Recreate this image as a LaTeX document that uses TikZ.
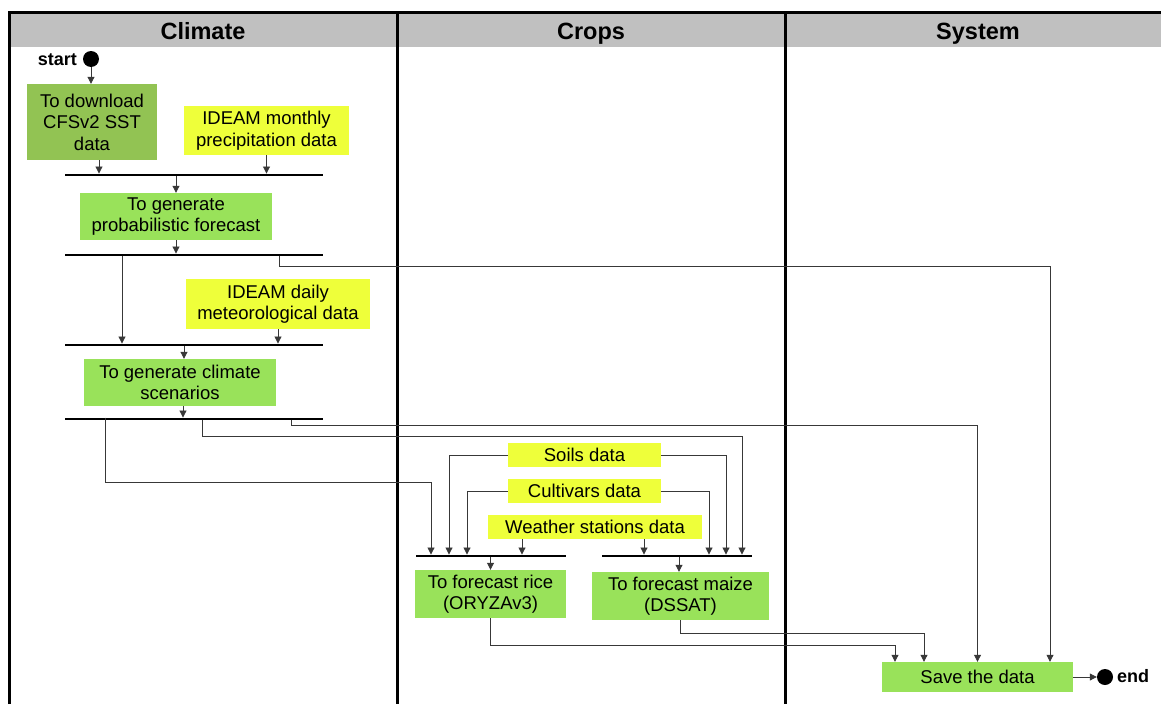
\documentclass[tikz,border=0pt]{standalone}
\usepackage{fontspec}
\setmainfont{Liberation Sans}
\usetikzlibrary{arrows.meta}
\definecolor{gfill}{HTML}{99E25A}
\definecolor{dgfill}{HTML}{92C353}
\definecolor{yfill}{HTML}{EEFF3A}
\definecolor{hdr}{HTML}{C0C0C0}
\definecolor{lnc}{HTML}{383838}
\begin{document}
\begin{tikzpicture}[x=1pt,y=-1pt,
  txt/.style={font=\fontsize{18.5}{21.5}\selectfont, align=center, inner sep=0pt},
  gbox/.style={txt, fill=gfill, minimum width=#1},
  dgbox/.style={txt, fill=dgfill, minimum width=#1},
  ybox/.style={txt, fill=yfill, minimum width=#1},
  barnode/.style={fill=black, inner sep=0pt, minimum height=2.5pt, minimum width=#1},
  dot/.style={circle, fill=black, inner sep=0pt, minimum size=16pt},
  lbl/.style={font=\bfseries\fontsize{18}{21}\selectfont, inner sep=0pt},
  hdrtxt/.style={font=\bfseries\fontsize{23.5}{27}\selectfont, inner sep=0pt, anchor=base},
  conn/.style={draw=lnc, line width=0.85pt, -{Triangle[length=7pt,width=7pt]}},
  lane/.style={line width=3pt, black}
]
\useasboundingbox (0,0) rectangle (1161,704);
% lanes
\fill[hdr] (9,13) rectangle (1161,47);
\draw[lane] (9,704) -- (9,12) -- (1161,12);
\draw[lane] (397,12) -- (397,704);
\draw[lane] (785,12) -- (785,704);
\node[hdrtxt] (hclim) at (203,39) {Climate};
\node[hdrtxt] (hcrop) at (591,39) {Crops};
\node[hdrtxt] (hsys) at (978,39) {System};

% Climate lane
\node[dot] (startdot) at (91,59) {};
\node[lbl, anchor=east] (startlbl) at (77,60) {start};
\node[dgbox=130pt, minimum height=76pt] (dl) at (92,122) {To download\\CFSv2 SST\\data};
\node[ybox=165pt, minimum height=49pt] (ideamm) at (266.5,130.5) {IDEAM monthly\\precipitation data};
\node[barnode=258pt] (bar1) at (194,175) {};
\node[gbox=192pt, minimum height=47pt] (prob) at (176,216.5) {To generate\\probabilistic forecast};
\node[barnode=258pt] (bar2) at (194,255) {};
\node[ybox=184pt, minimum height=50pt] (ideamd) at (278,304) {IDEAM daily\\meteorological data};
\node[barnode=258pt] (bar3) at (194,345) {};
\node[gbox=192pt, minimum height=47pt] (scen) at (180,382.5) {To generate climate\\scenarios};
\node[barnode=258pt] (bar4) at (194,419) {};

% Crops lane
\node[ybox=153pt, minimum height=24pt] (soils) at (584.5,455) {Soils data};
\node[ybox=153pt, minimum height=24pt] (cult) at (584.5,491) {Cultivars data};
\node[ybox=214pt, minimum height=24pt] (weather) at (595,527) {Weather stations data};
\node[barnode=150pt] (bar5) at (491,556) {};
\node[barnode=150pt] (bar6) at (677,556) {};
\node[gbox=151pt, minimum height=48pt] (rice) at (490.5,594) {To forecast rice\\(ORYZAv3)};
\node[gbox=177pt, minimum height=48pt] (maize) at (680.5,596) {To forecast maize\\(DSSAT)};

% System lane
\node[gbox=191pt, minimum height=30pt] (save) at (977.5,677) {Save the data};
\node[dot] (enddot) at (1105,677) {};
\node[lbl, anchor=west] (endlbl) at (1117,676) {end};

% connectors
\draw[conn] (startdot.south) -- (startdot.south |- dl.north);
\draw[conn] ([xshift=7pt]dl.south) -- ([xshift=7pt]dl.south |- bar1.north);
\draw[conn] (ideamm.south) -- (ideamm.south |- bar1.north);
\draw[conn] (prob.north |- bar1.south) -- (prob.north);
\draw[conn] (prob.south) -- (prob.south |- bar2.north);
\draw[conn] ([xshift=-72pt]bar2.south) -- ([xshift=-72pt]bar2.south |- bar3.north);
\draw[conn] ([xshift=85pt]bar2.south) -- ++(0,10) -| ([xshift=72.5pt]save.north);
\draw[conn] (ideamd.south) -- (ideamd.south |- bar3.north);
\draw[conn] ([xshift=4pt]scen.north |- bar3.south) -- ([xshift=4pt]scen.north);
\draw[conn] ([xshift=3pt]scen.south) -- ([xshift=3pt]scen.south |- bar4.north);
\draw[conn] ([xshift=-89pt]bar4.north) -- ++(0,65) -| ([xshift=-60pt]bar5.north);
\draw[conn] ([xshift=8pt]bar4.south) -- ++(0,16) -| ([xshift=65pt]bar6.north);
\draw[conn] ([xshift=97pt]bar4.south) -- ++(0,5) -| (save.north);
\draw[conn] (soils.west) -| ([xshift=-42pt]bar5.north);
\draw[conn] (cult.west) -| ([xshift=-24pt]bar5.north);
\draw[conn] ([xshift=-73pt]weather.south) -- ([xshift=-73pt]weather.south |- bar5.north);
\draw[conn] (soils.east) -| ([xshift=49pt]bar6.north);
\draw[conn] (cult.east) -| ([xshift=32pt]bar6.north);
\draw[conn] ([xshift=49pt]weather.south) -- ([xshift=49pt]weather.south |- bar6.north);
\draw[conn] (rice.north |- bar5.south) -- (rice.north);
\draw[conn] ([xshift=-1.5pt]maize.north |- bar6.south) -- ([xshift=-1.5pt]maize.north);
\draw[conn] (rice.south) -- ++(0,27) -| ([xshift=-82.5pt]save.north);
\draw[conn] (maize.south) -- ++(0,13) -| ([xshift=-53.5pt]save.north);
\draw[conn] (save.east) -- (enddot.west);
\end{tikzpicture}
\end{document}
